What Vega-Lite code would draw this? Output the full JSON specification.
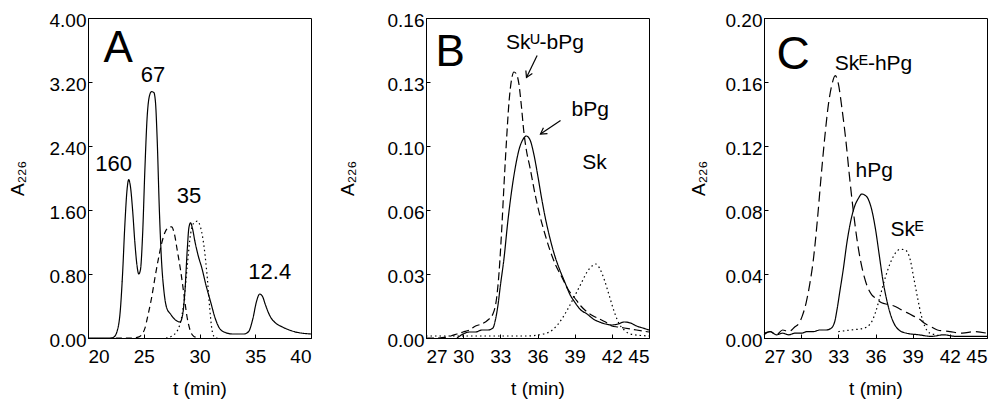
{
  "$schema": "https://vega.github.io/schema/vega-lite/v6.json",
  "padding": {"left": 7, "top": 10, "right": 0, "bottom": 0},
  "background": "white",
  "datasets": {
    "A": [
      {"series":"solid","t":20,"a":0},{"series":"solid","t":21,"a":0},{"series":"solid","t":22,"a":0},{"series":"solid","t":22.3,"a":0.01},{"series":"solid","t":22.6,"a":0.08},{"series":"solid","t":22.9,"a":0.35},{"series":"solid","t":23.1,"a":0.8},{"series":"solid","t":23.3,"a":1.4},{"series":"solid","t":23.5,"a":1.85},{"series":"solid","t":23.65,"a":1.98},{"series":"solid","t":23.8,"a":1.9},{"series":"solid","t":24.0,"a":1.6},{"series":"solid","t":24.2,"a":1.2},{"series":"solid","t":24.4,"a":0.9},{"series":"solid","t":24.55,"a":0.8},{"series":"solid","t":24.7,"a":0.85},{"series":"solid","t":24.9,"a":1.3},{"series":"solid","t":25.1,"a":2.1},{"series":"solid","t":25.3,"a":2.75},{"series":"solid","t":25.5,"a":3.02},{"series":"solid","t":25.7,"a":3.08},{"series":"solid","t":25.9,"a":3.07},{"series":"solid","t":26.05,"a":2.95},{"series":"solid","t":26.2,"a":2.5},{"series":"solid","t":26.4,"a":1.6},{"series":"solid","t":26.6,"a":0.95},{"series":"solid","t":26.8,"a":0.6},{"series":"solid","t":27.05,"a":0.38},{"series":"solid","t":27.4,"a":0.3},{"series":"solid","t":27.8,"a":0.23},{"series":"solid","t":28.25,"a":0.2},{"series":"solid","t":28.5,"a":0.3},{"series":"solid","t":28.7,"a":0.6},{"series":"solid","t":28.9,"a":1.1},{"series":"solid","t":29.05,"a":1.38},{"series":"solid","t":29.2,"a":1.44},{"series":"solid","t":29.35,"a":1.38},{"series":"solid","t":29.6,"a":1.2},{"series":"solid","t":29.9,"a":1.02},{"series":"solid","t":30.2,"a":0.88},{"series":"solid","t":30.6,"a":0.65},{"series":"solid","t":31.0,"a":0.45},{"series":"solid","t":31.4,"a":0.25},{"series":"solid","t":31.8,"a":0.12},{"series":"solid","t":32.3,"a":0.07},{"series":"solid","t":33.0,"a":0.05},{"series":"solid","t":34.0,"a":0.05},{"series":"solid","t":34.4,"a":0.08},{"series":"solid","t":34.8,"a":0.25},{"series":"solid","t":35.1,"a":0.45},{"series":"solid","t":35.4,"a":0.55},{"series":"solid","t":35.65,"a":0.52},{"series":"solid","t":35.9,"a":0.42},{"series":"solid","t":36.3,"a":0.28},{"series":"solid","t":36.8,"a":0.19},{"series":"solid","t":37.4,"a":0.14},{"series":"solid","t":38.5,"a":0.08},{"series":"solid","t":40,"a":0.05},
      {"series":"dashed","t":22.5,"a":0},{"series":"dashed","t":24.0,"a":0},{"series":"dashed","t":24.5,"a":0.01},{"series":"dashed","t":24.8,"a":0.04},{"series":"dashed","t":25.1,"a":0.12},{"series":"dashed","t":25.4,"a":0.3},{"series":"dashed","t":25.7,"a":0.5},{"series":"dashed","t":26.0,"a":0.75},{"series":"dashed","t":26.3,"a":0.98},{"series":"dashed","t":26.6,"a":1.18},{"series":"dashed","t":26.9,"a":1.32},{"series":"dashed","t":27.2,"a":1.38},{"series":"dashed","t":27.5,"a":1.39},{"series":"dashed","t":27.75,"a":1.3},{"series":"dashed","t":28.0,"a":1.1},{"series":"dashed","t":28.3,"a":0.85},{"series":"dashed","t":28.6,"a":0.55},{"series":"dashed","t":28.9,"a":0.25},{"series":"dashed","t":29.2,"a":0.08},{"series":"dashed","t":29.5,"a":0.02},{"series":"dashed","t":30,"a":0},
      {"series":"dotted","t":27.0,"a":0},{"series":"dotted","t":27.6,"a":0.03},{"series":"dotted","t":28.2,"a":0.15},{"series":"dotted","t":28.6,"a":0.45},{"series":"dotted","t":28.9,"a":0.9},{"series":"dotted","t":29.2,"a":1.3},{"series":"dotted","t":29.5,"a":1.44},{"series":"dotted","t":29.8,"a":1.46},{"series":"dotted","t":30.1,"a":1.38},{"series":"dotted","t":30.4,"a":1.15},{"series":"dotted","t":30.7,"a":0.75},{"series":"dotted","t":30.9,"a":0.4},{"series":"dotted","t":31.1,"a":0.12},{"series":"dotted","t":31.3,"a":0.02},{"series":"dotted","t":31.6,"a":0}
    ],
    "B": [
      {"series":"solid","t":29.5,"a":0},{"series":"solid","t":30.0,"a":0.002},{"series":"solid","t":30.5,"a":0.003},{"series":"solid","t":31.0,"a":0.003},{"series":"solid","t":31.5,"a":0.004},{"series":"solid","t":32.0,"a":0.004},{"series":"solid","t":32.4,"a":0.005},{"series":"solid","t":32.6,"a":0.009},{"series":"solid","t":32.8,"a":0.016},{"series":"solid","t":33.0,"a":0.026},{"series":"solid","t":33.3,"a":0.04},{"series":"solid","t":33.6,"a":0.058},{"series":"solid","t":33.9,"a":0.073},{"series":"solid","t":34.2,"a":0.085},{"series":"solid","t":34.5,"a":0.094},{"series":"solid","t":34.8,"a":0.099},{"series":"solid","t":35.1,"a":0.101},{"series":"solid","t":35.4,"a":0.099},{"series":"solid","t":35.7,"a":0.092},{"series":"solid","t":36.0,"a":0.082},{"series":"solid","t":36.3,"a":0.071},{"series":"solid","t":36.6,"a":0.061},{"series":"solid","t":37.0,"a":0.05},{"series":"solid","t":37.4,"a":0.041},{"series":"solid","t":37.8,"a":0.034},{"series":"solid","t":38.2,"a":0.028},{"series":"solid","t":38.6,"a":0.022},{"series":"solid","t":39.0,"a":0.018},{"series":"solid","t":39.5,"a":0.014},{"series":"solid","t":40.0,"a":0.012},{"series":"solid","t":40.5,"a":0.0095},{"series":"solid","t":41.0,"a":0.008},{"series":"solid","t":41.5,"a":0.007},{"series":"solid","t":42.0,"a":0.0065},{"series":"solid","t":42.5,"a":0.007},{"series":"solid","t":43.0,"a":0.008},{"series":"solid","t":43.5,"a":0.0075},{"series":"solid","t":44.0,"a":0.006},{"series":"solid","t":44.5,"a":0.005},{"series":"solid","t":45.0,"a":0.004},
      {"series":"dashed","t":27.0,"a":0},{"series":"dashed","t":28.0,"a":0},{"series":"dashed","t":29.0,"a":0.001},{"series":"dashed","t":29.5,"a":0.002},{"series":"dashed","t":30.0,"a":0.003},{"series":"dashed","t":30.5,"a":0.004},{"series":"dashed","t":31.0,"a":0.006},{"series":"dashed","t":31.5,"a":0.007},{"series":"dashed","t":32.0,"a":0.009},{"series":"dashed","t":32.4,"a":0.012},{"series":"dashed","t":32.7,"a":0.02},{"series":"dashed","t":32.9,"a":0.033},{"series":"dashed","t":33.1,"a":0.053},{"series":"dashed","t":33.3,"a":0.077},{"series":"dashed","t":33.5,"a":0.099},{"series":"dashed","t":33.7,"a":0.118},{"series":"dashed","t":33.9,"a":0.129},{"series":"dashed","t":34.1,"a":0.133},{"series":"dashed","t":34.3,"a":0.132},{"series":"dashed","t":34.5,"a":0.127},{"series":"dashed","t":34.7,"a":0.116},{"series":"dashed","t":34.9,"a":0.103},{"series":"dashed","t":35.1,"a":0.094},{"series":"dashed","t":35.4,"a":0.085},{"series":"dashed","t":35.8,"a":0.072},{"series":"dashed","t":36.2,"a":0.061},{"series":"dashed","t":36.6,"a":0.052},{"series":"dashed","t":37.0,"a":0.044},{"series":"dashed","t":37.5,"a":0.036},{"series":"dashed","t":38.0,"a":0.03},{"series":"dashed","t":38.5,"a":0.024},{"series":"dashed","t":39.0,"a":0.02},{"series":"dashed","t":39.5,"a":0.016},{"series":"dashed","t":40.0,"a":0.013},{"series":"dashed","t":40.5,"a":0.011},{"series":"dashed","t":41.0,"a":0.0095},{"series":"dashed","t":41.5,"a":0.008},{"series":"dashed","t":42.0,"a":0.006},{"series":"dashed","t":42.5,"a":0.0055},{"series":"dashed","t":43.0,"a":0.005},{"series":"dashed","t":44.0,"a":0.004},{"series":"dashed","t":45.0,"a":0.003},
      {"series":"dotted","t":27,"a":0.001},{"series":"dotted","t":30,"a":0.001},{"series":"dotted","t":33,"a":0.001},{"series":"dotted","t":35,"a":0.001},{"series":"dotted","t":36.5,"a":0.002},{"series":"dotted","t":37.2,"a":0.004},{"series":"dotted","t":37.8,"a":0.008},{"series":"dotted","t":38.4,"a":0.014},{"series":"dotted","t":39.0,"a":0.021},{"series":"dotted","t":39.5,"a":0.027},{"series":"dotted","t":40.0,"a":0.033},{"series":"dotted","t":40.4,"a":0.036},{"series":"dotted","t":40.7,"a":0.037},{"series":"dotted","t":41.0,"a":0.035},{"series":"dotted","t":41.4,"a":0.029},{"series":"dotted","t":41.8,"a":0.021},{"series":"dotted","t":42.2,"a":0.013},{"series":"dotted","t":42.6,"a":0.007},{"series":"dotted","t":43.0,"a":0.004},{"series":"dotted","t":43.5,"a":0.002},{"series":"dotted","t":45.0,"a":0.001}
    ],
    "C": [
      {"series":"solid","t":27.0,"a":0.002},{"series":"solid","t":27.5,"a":0.004},{"series":"solid","t":28.0,"a":0.002},{"series":"solid","t":28.5,"a":0.003},{"series":"solid","t":29.0,"a":0.002},{"series":"solid","t":29.5,"a":0.003},{"series":"solid","t":30.0,"a":0.003},{"series":"solid","t":30.5,"a":0.004},{"series":"solid","t":31.0,"a":0.004},{"series":"solid","t":31.5,"a":0.005},{"series":"solid","t":32.0,"a":0.005},{"series":"solid","t":32.4,"a":0.006},{"series":"solid","t":32.7,"a":0.01},{"series":"solid","t":32.9,"a":0.018},{"series":"solid","t":33.1,"a":0.028},{"series":"solid","t":33.4,"a":0.043},{"series":"solid","t":33.7,"a":0.06},{"series":"solid","t":34.0,"a":0.073},{"series":"solid","t":34.3,"a":0.082},{"series":"solid","t":34.6,"a":0.087},{"series":"solid","t":34.9,"a":0.09},{"series":"solid","t":35.1,"a":0.0895},{"series":"solid","t":35.4,"a":0.087},{"series":"solid","t":35.7,"a":0.08},{"series":"solid","t":36.0,"a":0.068},{"series":"solid","t":36.3,"a":0.052},{"series":"solid","t":36.6,"a":0.036},{"series":"solid","t":36.9,"a":0.024},{"series":"solid","t":37.2,"a":0.015},{"series":"solid","t":37.5,"a":0.009},{"series":"solid","t":37.9,"a":0.005},{"series":"solid","t":38.5,"a":0.003},{"series":"solid","t":39.5,"a":0.002},{"series":"solid","t":40.5,"a":0.001},{"series":"solid","t":41.5,"a":0.002},{"series":"solid","t":42.5,"a":0.001},{"series":"solid","t":45.0,"a":0.001},
      {"series":"dashed","t":27.0,"a":0.003},{"series":"dashed","t":27.5,"a":0.004},{"series":"dashed","t":28.0,"a":0.002},{"series":"dashed","t":28.5,"a":0.005},{"series":"dashed","t":29.0,"a":0.004},{"series":"dashed","t":29.5,"a":0.007},{"series":"dashed","t":29.8,"a":0.009},{"series":"dashed","t":30.1,"a":0.014},{"series":"dashed","t":30.4,"a":0.022},{"series":"dashed","t":30.7,"a":0.034},{"series":"dashed","t":31.0,"a":0.05},{"series":"dashed","t":31.3,"a":0.073},{"series":"dashed","t":31.6,"a":0.1},{"series":"dashed","t":31.9,"a":0.125},{"series":"dashed","t":32.2,"a":0.146},{"series":"dashed","t":32.5,"a":0.159},{"series":"dashed","t":32.75,"a":0.164},{"series":"dashed","t":33.0,"a":0.159},{"series":"dashed","t":33.3,"a":0.143},{"series":"dashed","t":33.6,"a":0.124},{"series":"dashed","t":33.9,"a":0.101},{"series":"dashed","t":34.2,"a":0.08},{"series":"dashed","t":34.5,"a":0.062},{"series":"dashed","t":34.8,"a":0.048},{"series":"dashed","t":35.1,"a":0.038},{"series":"dashed","t":35.4,"a":0.031},{"series":"dashed","t":35.7,"a":0.027},{"series":"dashed","t":36.0,"a":0.025},{"series":"dashed","t":36.5,"a":0.022},{"series":"dashed","t":37.0,"a":0.021},{"series":"dashed","t":37.5,"a":0.02},{"series":"dashed","t":38.0,"a":0.018},{"series":"dashed","t":38.5,"a":0.016},{"series":"dashed","t":39.0,"a":0.014},{"series":"dashed","t":39.5,"a":0.012},{"series":"dashed","t":40.0,"a":0.009},{"series":"dashed","t":40.5,"a":0.007},{"series":"dashed","t":41.0,"a":0.005},{"series":"dashed","t":42.0,"a":0.004},{"series":"dashed","t":43.0,"a":0.003},{"series":"dashed","t":44.0,"a":0.004},{"series":"dashed","t":45.0,"a":0.003},
      {"series":"dotted","t":33.0,"a":0.004},{"series":"dotted","t":34.0,"a":0.005},{"series":"dotted","t":35.0,"a":0.006},{"series":"dotted","t":35.6,"a":0.009},{"series":"dotted","t":36.0,"a":0.016},{"series":"dotted","t":36.4,"a":0.027},{"series":"dotted","t":36.8,"a":0.038},{"series":"dotted","t":37.2,"a":0.047},{"series":"dotted","t":37.6,"a":0.053},{"series":"dotted","t":38.0,"a":0.0555},{"series":"dotted","t":38.4,"a":0.055},{"series":"dotted","t":38.8,"a":0.049},{"series":"dotted","t":39.1,"a":0.037},{"series":"dotted","t":39.4,"a":0.025},{"series":"dotted","t":39.7,"a":0.014},{"series":"dotted","t":40.0,"a":0.007},{"series":"dotted","t":40.4,"a":0.003},{"series":"dotted","t":41.0,"a":0.002}
    ],
    "panelLetters": [
      {"panel":"A","t":22.7,"a":3.45,"label":"A"},
      {"panel":"B","t":28.96,"a":0.136,"label":"B"},
      {"panel":"C","t":29.35,"a":0.168,"label":"C"}
    ],
    "notes": [
      {"panel":"A","t":22.3,"a":2.09,"label":"160"},
      {"panel":"A","t":25.83,"a":3.2,"label":"67"},
      {"panel":"A","t":29.06,"a":1.69,"label":"35"},
      {"panel":"A","t":36.3,"a":0.74,"label":"12.4"},
      {"panel":"B","t":36.6,"a":0.1445,"label":"Skᵁ-bPg"},
      {"panel":"B","t":40.25,"a":0.111,"label":"bPg"},
      {"panel":"B","t":40.6,"a":0.0845,"label":"Sk"},
      {"panel":"C","t":35.84,"a":0.1677,"label":"Skᴱ-hPg"},
      {"panel":"C","t":35.9,"a":0.1004,"label":"hPg"},
      {"panel":"C","t":38.55,"a":0.064,"label":"Skᴱ"}
    ],
    "arrows": [
      {"arrow":"SkU","t":35.97,"a":0.1412,"t2":35.11,"a2":0.1303},
      {"arrow":"bPg","t":37.86,"a":0.1087,"t2":36.24,"a2":0.102}
    ]
  },
  "hconcat": [
    {
      "width": 223, "height": 320,
      "layer": [
        {
          "data": {"name": "A"},
          "mark": {"type": "line", "color": "black", "strokeWidth": 1.2, "interpolate": "monotone"},
          "encoding": {
            "x": {"field": "t", "type": "quantitative", "scale": {"domain": [20, 40], "nice": false, "zero": false},
                  "axis": {"title": "t (min)", "values": [20, 25, 30, 35, 40], "tickCount": 20, "labelOverlap": false}},
            "y": {"field": "a", "type": "quantitative", "scale": {"domain": [0, 4], "nice": false},
                  "axis": {"title": "A₂₂₆", "values": [0, 0.8, 1.6, 2.4, 3.2, 4.0], "tickCount": 20, "format": ".2f", "labelOverlap": false, "titleX": -71, "titleY": 160, "titleBaseline": "middle"}},
            "detail": {"field": "series"},
            "strokeDash": {"field": "series", "type": "nominal", "scale": {"domain": ["solid", "dashed", "dotted"], "range": [[1, 0], [6, 4], [1.5, 3]]}, "legend": null}
          }
        },
        {
          "data": {"name": "panelLetters"},
          "transform": [{"filter": "datum.panel === 'A'"}],
          "mark": {"type": "text", "fontSize": 44, "align": "center", "baseline": "alphabetic", "color": "black"},
          "encoding": {"x": {"field": "t", "type": "quantitative"}, "y": {"field": "a", "type": "quantitative"}, "text": {"field": "label"}}
        },
        {
          "data": {"name": "notes"},
          "transform": [{"filter": "datum.panel === 'A'"}],
          "mark": {"type": "text", "fontSize": 22, "align": "center", "baseline": "alphabetic", "color": "black"},
          "encoding": {"x": {"field": "t", "type": "quantitative"}, "y": {"field": "a", "type": "quantitative"}, "text": {"field": "label"}}
        }
      ]
    },
    {
      "width": 223, "height": 320,
      "layer": [
        {
          "data": {"name": "B"},
          "mark": {"type": "line", "color": "black", "strokeWidth": 1.2, "interpolate": "monotone"},
          "encoding": {
            "x": {"field": "t", "type": "quantitative", "scale": {"domain": [27, 45], "nice": false, "zero": false},
                  "axis": {"title": "t (min)", "values": [27, 30, 33, 36, 39, 42, 45], "tickCount": 20, "labelOverlap": false}},
            "y": {"field": "a", "type": "quantitative", "scale": {"domain": [0, 0.16], "nice": false},
                  "axis": {"title": "A₂₂₆", "values": [0, 0.032, 0.064, 0.096, 0.128, 0.16], "tickCount": 20, "format": ".2f", "labelOverlap": false, "titleX": -79, "titleY": 160, "titleBaseline": "middle"}},
            "detail": {"field": "series"},
            "strokeDash": {"field": "series", "type": "nominal", "scale": {"domain": ["solid", "dashed", "dotted"], "range": [[1, 0], [8, 4], [1.5, 3]]}, "legend": null}
          }
        },
        {
          "data": {"name": "panelLetters"},
          "transform": [{"filter": "datum.panel === 'B'"}],
          "mark": {"type": "text", "fontSize": 44, "align": "center", "baseline": "alphabetic", "color": "black"},
          "encoding": {"x": {"field": "t", "type": "quantitative"}, "y": {"field": "a", "type": "quantitative"}, "text": {"field": "label"}}
        },
        {
          "data": {"name": "notes"},
          "transform": [{"filter": "datum.panel === 'B'"}],
          "mark": {"type": "text", "fontSize": 21, "align": "center", "baseline": "alphabetic", "color": "black"},
          "encoding": {"x": {"field": "t", "type": "quantitative"}, "y": {"field": "a", "type": "quantitative"}, "text": {"field": "label"}}
        },
        {
          "data": {"name": "arrows"},
          "mark": {"type": "rule", "color": "black", "strokeWidth": 1.2},
          "encoding": {"x": {"field": "t", "type": "quantitative"}, "y": {"field": "a", "type": "quantitative"}, "x2": {"field": "t2"}, "y2": {"field": "a2"}}
        },
        {
          "data": {"name": "arrows"},
          "transform": [{"filter": "datum.arrow === 'SkU'"}],
          "mark": {"type": "point", "shape": "M -0.6 1 L 0 0 L 0.6 1", "filled": false, "stroke": "black", "strokeWidth": 1.2, "size": 144, "angle": 206, "opacity": 1},
          "encoding": {"x": {"field": "t2", "type": "quantitative"}, "y": {"field": "a2", "type": "quantitative"}}
        },
        {
          "data": {"name": "arrows"},
          "transform": [{"filter": "datum.arrow === 'bPg'"}],
          "mark": {"type": "point", "shape": "M -0.6 1 L 0 0 L 0.6 1", "filled": false, "stroke": "black", "strokeWidth": 1.2, "size": 144, "angle": 236, "opacity": 1},
          "encoding": {"x": {"field": "t2", "type": "quantitative"}, "y": {"field": "a2", "type": "quantitative"}}
        }
      ]
    },
    {
      "width": 223, "height": 320,
      "layer": [
        {
          "data": {"name": "C"},
          "mark": {"type": "line", "color": "black", "strokeWidth": 1.2, "interpolate": "monotone"},
          "encoding": {
            "x": {"field": "t", "type": "quantitative", "scale": {"domain": [27, 45], "nice": false, "zero": false},
                  "axis": {"title": "t (min)", "values": [27, 30, 33, 36, 39, 42, 45], "tickCount": 20, "labelOverlap": false}},
            "y": {"field": "a", "type": "quantitative", "scale": {"domain": [0, 0.2], "nice": false},
                  "axis": {"title": "A₂₂₆", "values": [0, 0.04, 0.08, 0.12, 0.16, 0.2], "tickCount": 20, "format": ".2f", "labelOverlap": false, "titleX": -66, "titleY": 160, "titleBaseline": "middle"}},
            "detail": {"field": "series"},
            "strokeDash": {"field": "series", "type": "nominal", "scale": {"domain": ["solid", "dashed", "dotted"], "range": [[1, 0], [10, 5], [1.5, 3]]}, "legend": null}
          }
        },
        {
          "data": {"name": "panelLetters"},
          "transform": [{"filter": "datum.panel === 'C'"}],
          "mark": {"type": "text", "fontSize": 46, "align": "center", "baseline": "alphabetic", "color": "black"},
          "encoding": {"x": {"field": "t", "type": "quantitative"}, "y": {"field": "a", "type": "quantitative"}, "text": {"field": "label"}}
        },
        {
          "data": {"name": "notes"},
          "transform": [{"filter": "datum.panel === 'C'"}],
          "mark": {"type": "text", "fontSize": 21, "align": "center", "baseline": "alphabetic", "color": "black"},
          "encoding": {"x": {"field": "t", "type": "quantitative"}, "y": {"field": "a", "type": "quantitative"}, "text": {"field": "label"}}
        }
      ]
    }
  ],
  "resolve": {"scale": {"x": "independent", "y": "independent", "strokeDash": "independent"}},
  "bounds": "flush",
  "spacing": 115,
  "config": {
    "font": "Liberation Sans",
    "view": {"stroke": "black", "strokeWidth": 1},
    "axis": {
      "domainColor": "black", "tickColor": "black", "tickSize": -4, "grid": false, "labelOverlap": false,
      "labelFont": "Liberation Sans", "labelFontSize": 19, "labelColor": "black", "labelPadding": 6, "labelOffset": 2,
      "titleFont": "Liberation Sans", "titleFontSize": 19, "titleFontWeight": "normal", "titleColor": "black", "titlePadding": 12
    },
    "axisX": {"labelOffset": 0, "labelPadding": 13, "titlePadding": 13}
  }
}
